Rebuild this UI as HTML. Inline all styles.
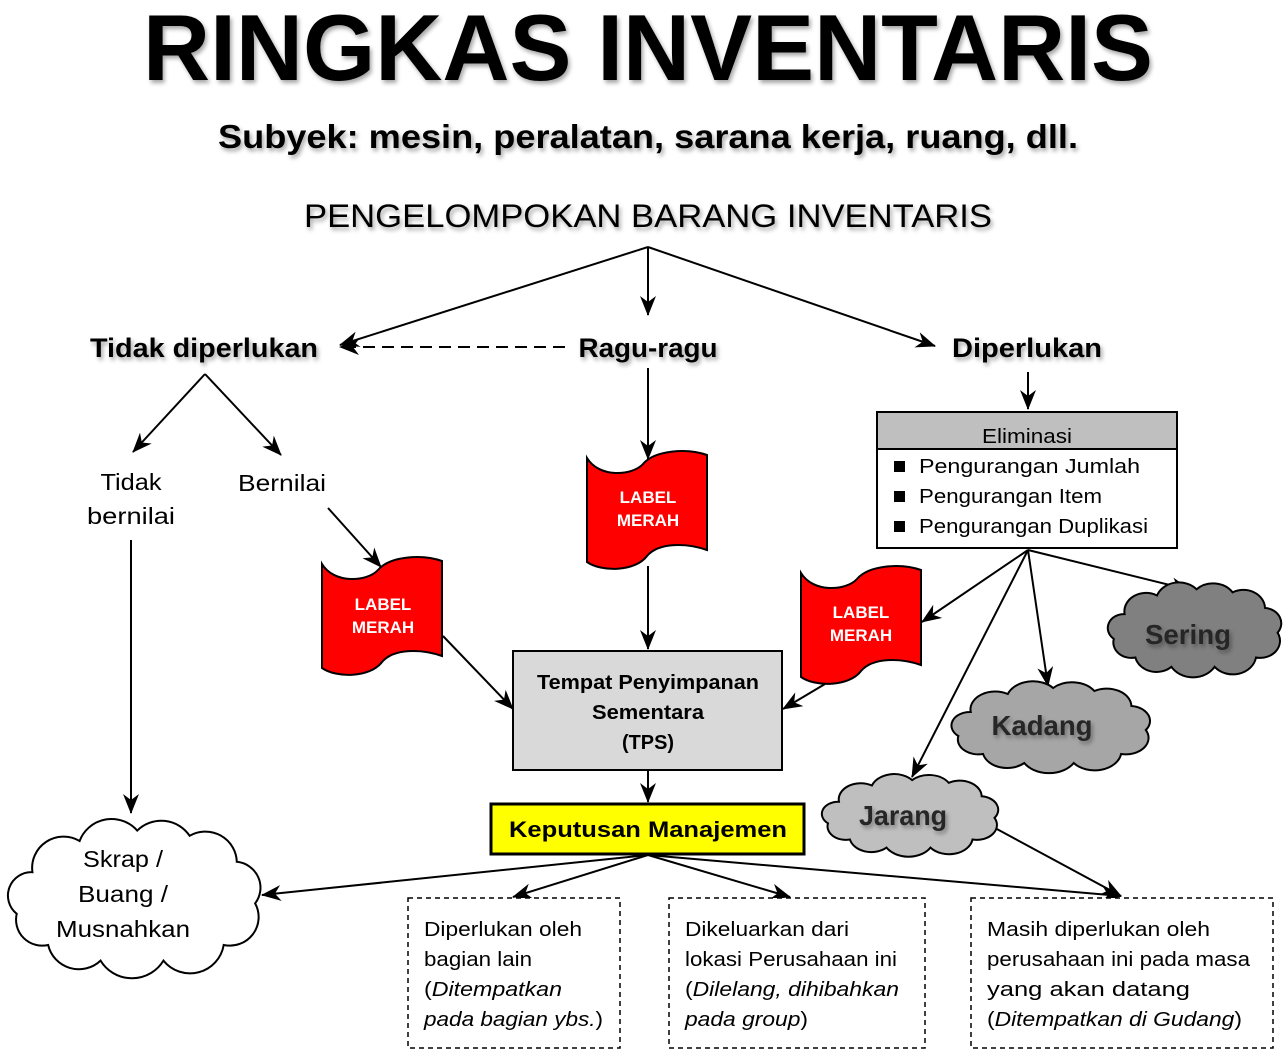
<!DOCTYPE html>
<html><head><meta charset="utf-8"><style>
html,body{margin:0;padding:0;background:#fff}
svg{display:block}
text{font-family:"Liberation Sans",sans-serif}
</style></head><body>
<svg width="1286" height="1050" viewBox="0 0 1286 1050" xmlns="http://www.w3.org/2000/svg">
<defs>
<marker id="a" viewBox="0 0 20 16" refX="19" refY="8" markerWidth="20" markerHeight="16" markerUnits="userSpaceOnUse" orient="auto">
<path d="M0,0 L20,8 L0,16 L6,8 Z" fill="#000"/>
</marker>
<filter id="sh" x="-5%" y="-5%" width="115%" height="130%"><feDropShadow dx="2" dy="3" stdDeviation="2" flood-color="#000" flood-opacity="0.35"/></filter>
<path id="flag" d="M0,8 C12,28 45,26 56,14 C68,0 100,-2 120,5 L120,100 C100,93 72,92 60,106 C48,122 14,122 0,112 Z"/>
</defs>

<g filter="url(#sh)">
<text x="648" y="80" font-size="94" font-weight="bold" text-anchor="middle" textLength="1010" lengthAdjust="spacingAndGlyphs">RINGKAS INVENTARIS</text>
<text x="648" y="148" font-size="33" font-weight="bold" text-anchor="middle" textLength="860" lengthAdjust="spacingAndGlyphs">Subyek: mesin, peralatan, sarana kerja, ruang, dll.</text>
<text x="648" y="227" font-size="32" text-anchor="middle" textLength="688" lengthAdjust="spacingAndGlyphs">PENGELOMPOKAN BARANG INVENTARIS</text>
<text x="204" y="357" font-size="27" font-weight="bold" text-anchor="middle" textLength="228" lengthAdjust="spacingAndGlyphs">Tidak diperlukan</text>
<text x="648" y="357" font-size="27" font-weight="bold" text-anchor="middle" textLength="139" lengthAdjust="spacingAndGlyphs">Ragu-ragu</text>
<text x="1027" y="357" font-size="27" font-weight="bold" text-anchor="middle" textLength="150" lengthAdjust="spacingAndGlyphs">Diperlukan</text>
</g>

<g stroke="#000" stroke-width="2" fill="none">
<line x1="648" y1="247" x2="340" y2="345" marker-end="url(#a)"/>
<line x1="648" y1="247" x2="648" y2="315" marker-end="url(#a)"/>
<line x1="648" y1="247" x2="935" y2="346" marker-end="url(#a)"/>
<line x1="565" y1="347" x2="340" y2="347" stroke-dasharray="12,7" marker-end="url(#a)"/>
<line x1="205" y1="374" x2="133" y2="452" marker-end="url(#a)"/>
<line x1="205" y1="374" x2="281" y2="455" marker-end="url(#a)"/>
<line x1="131" y1="540" x2="131" y2="813" marker-end="url(#a)"/>
<line x1="328" y1="508" x2="381" y2="567" marker-end="url(#a)"/>
<line x1="648" y1="368" x2="648" y2="459" marker-end="url(#a)"/>
<line x1="648" y1="566" x2="648" y2="649" marker-end="url(#a)"/>
<line x1="443" y1="636" x2="513" y2="709" marker-end="url(#a)"/>
<line x1="825" y1="684" x2="783" y2="709" marker-end="url(#a)"/>
<line x1="648" y1="770" x2="648" y2="802" marker-end="url(#a)"/>
<line x1="1028" y1="372" x2="1028" y2="409" marker-end="url(#a)"/>
<line x1="1028" y1="550" x2="922" y2="622" marker-end="url(#a)"/>
<line x1="1028" y1="550" x2="1048" y2="686" marker-end="url(#a)"/>
<line x1="1028" y1="550" x2="912" y2="777" marker-end="url(#a)"/>
<line x1="1028" y1="550" x2="1190" y2="590" marker-end="url(#a)"/>
<line x1="995" y1="828" x2="1121" y2="896" marker-end="url(#a)"/>
<line x1="648" y1="855" x2="262" y2="895" marker-end="url(#a)"/>
<line x1="648" y1="855" x2="513" y2="897" marker-end="url(#a)"/>
<line x1="648" y1="855" x2="790" y2="897" marker-end="url(#a)"/>
<line x1="648" y1="855" x2="1121" y2="896" marker-end="url(#a)"/>
</g>

<g font-size="23" text-anchor="middle">
<text x="131" y="490" textLength="61" lengthAdjust="spacingAndGlyphs">Tidak</text>
<text x="131" y="524" textLength="88" lengthAdjust="spacingAndGlyphs">bernilai</text>
<text x="282" y="491" textLength="88" lengthAdjust="spacingAndGlyphs">Bernilai</text>
</g>

<!-- flags -->
<g fill="#ff0000" stroke="#000" stroke-width="2">
<use href="#flag" transform="translate(322,556)"/>
<use href="#flag" transform="translate(587,450)"/>
<use href="#flag" transform="translate(801,565)"/>
</g>
<g fill="#fff" font-size="17" font-weight="bold" text-anchor="middle">
<text x="383" y="610">LABEL</text><text x="383" y="633">MERAH</text>
<text x="648" y="503">LABEL</text><text x="648" y="526">MERAH</text>
<text x="861" y="618">LABEL</text><text x="861" y="641">MERAH</text>
</g>

<!-- TPS -->
<rect x="513" y="651" width="269" height="119" fill="#d9d9d9" stroke="#000" stroke-width="2"/>
<g font-size="20" font-weight="bold" text-anchor="middle">
<text x="648" y="689" textLength="222" lengthAdjust="spacingAndGlyphs">Tempat Penyimpanan</text>
<text x="648" y="719" textLength="112" lengthAdjust="spacingAndGlyphs">Sementara</text>
<text x="648" y="749" textLength="52" lengthAdjust="spacingAndGlyphs">(TPS)</text>
</g>
<rect x="491" y="804" width="313" height="50" fill="#ffff00" stroke="#000" stroke-width="3"/>
<text x="648" y="837" font-size="22" font-weight="bold" text-anchor="middle" textLength="278" lengthAdjust="spacingAndGlyphs">Keputusan Manajemen</text>

<!-- Eliminasi -->
<rect x="877" y="412" width="300" height="136" fill="#fff" stroke="#000" stroke-width="2"/>
<rect x="877" y="412" width="300" height="37" fill="#bfbfbf" stroke="#000" stroke-width="2"/>
<text x="1027" y="443" font-size="20" text-anchor="middle" textLength="90" lengthAdjust="spacingAndGlyphs">Eliminasi</text>
<g font-size="20">
<rect x="894" y="461" width="11" height="11"/><text x="919" y="473" textLength="221" lengthAdjust="spacingAndGlyphs">Pengurangan Jumlah</text>
<rect x="894" y="491" width="11" height="11"/><text x="919" y="503" textLength="183" lengthAdjust="spacingAndGlyphs">Pengurangan Item</text>
<rect x="894" y="521" width="11" height="11"/><text x="919" y="533" textLength="229" lengthAdjust="spacingAndGlyphs">Pengurangan Duplikasi</text>
</g>

<!-- clouds -->
<g stroke="#000" stroke-width="2">
<path vector-effect="non-scaling-stroke" fill="#808080" transform="translate(1103,580) scale(1.8,1.55)" d="M12,22 A12,12 0 0 1 30,10 A13,13 0 0 1 52,6 A13,13 0 0 1 72,8 A12,12 0 0 1 90,18 A10,10 0 0 1 97,34 A11,11 0 0 1 85,50 A13,13 0 0 1 62,56 A14,14 0 0 1 38,56 A12,12 0 0 1 18,50 A10,10 0 0 1 6,38 A9,9 0 0 1 12,22 Z"/>
<path vector-effect="non-scaling-stroke" fill="#a6a6a6" transform="translate(946,679) scale(2.06,1.5)" d="M12,22 A12,12 0 0 1 30,10 A13,13 0 0 1 52,6 A13,13 0 0 1 72,8 A12,12 0 0 1 90,18 A10,10 0 0 1 97,34 A11,11 0 0 1 85,50 A13,13 0 0 1 62,56 A14,14 0 0 1 38,56 A12,12 0 0 1 18,50 A10,10 0 0 1 6,38 A9,9 0 0 1 12,22 Z"/>
<path vector-effect="non-scaling-stroke" fill="#bfbfbf" transform="translate(817,772) scale(1.83,1.35)" d="M12,22 A12,12 0 0 1 30,10 A13,13 0 0 1 52,6 A13,13 0 0 1 72,8 A12,12 0 0 1 90,18 A10,10 0 0 1 97,34 A11,11 0 0 1 85,50 A13,13 0 0 1 62,56 A14,14 0 0 1 38,56 A12,12 0 0 1 18,50 A10,10 0 0 1 6,38 A9,9 0 0 1 12,22 Z"/>
<path vector-effect="non-scaling-stroke" fill="#fff" transform="translate(1,815) scale(2.62,2.6)" d="M12,22 A12,12 0 0 1 30,10 A13,13 0 0 1 52,6 A13,13 0 0 1 72,8 A12,12 0 0 1 90,18 A10,10 0 0 1 97,34 A11,11 0 0 1 85,50 A13,13 0 0 1 62,56 A14,14 0 0 1 38,56 A12,12 0 0 1 18,50 A10,10 0 0 1 6,38 A9,9 0 0 1 12,22 Z"/>
</g>
<g font-size="28" font-weight="bold" text-anchor="middle" fill="#262626" filter="url(#sh)">
<text x="1188" y="644" textLength="86" lengthAdjust="spacingAndGlyphs">Sering</text>
<text x="1042" y="735" textLength="101" lengthAdjust="spacingAndGlyphs">Kadang</text>
<text x="903" y="825" textLength="88" lengthAdjust="spacingAndGlyphs">Jarang</text>
</g>
<g font-size="23" text-anchor="middle">
<text x="123" y="867" textLength="80" lengthAdjust="spacingAndGlyphs">Skrap /</text>
<text x="123" y="902" textLength="90" lengthAdjust="spacingAndGlyphs">Buang /</text>
<text x="123" y="937" textLength="134" lengthAdjust="spacingAndGlyphs">Musnahkan</text>
</g>

<!-- dashed boxes -->
<g fill="#fff" stroke="#000" stroke-width="1.5" stroke-dasharray="5,4">
<rect x="408" y="898" width="212" height="150"/>
<rect x="669" y="898" width="256" height="150"/>
<rect x="971" y="898" width="302" height="150"/>
</g>
<g font-size="20">
<text x="424" y="936" textLength="158" lengthAdjust="spacingAndGlyphs">Diperlukan oleh</text>
<text x="424" y="966" textLength="108" lengthAdjust="spacingAndGlyphs">bagian lain</text>
<text x="424" y="996" textLength="138" lengthAdjust="spacingAndGlyphs">(<tspan font-style="italic">Ditempatkan</tspan></text>
<text x="424" y="1026" textLength="179" lengthAdjust="spacingAndGlyphs"><tspan font-style="italic">pada bagian ybs.</tspan>)</text>
<text x="685" y="936" textLength="164" lengthAdjust="spacingAndGlyphs">Dikeluarkan dari</text>
<text x="685" y="966" textLength="212" lengthAdjust="spacingAndGlyphs">lokasi Perusahaan ini</text>
<text x="685" y="996" textLength="214" lengthAdjust="spacingAndGlyphs">(<tspan font-style="italic">Dilelang, dihibahkan</tspan></text>
<text x="685" y="1026" textLength="123" lengthAdjust="spacingAndGlyphs"><tspan font-style="italic">pada group</tspan>)</text>
<text x="987" y="936" textLength="223" lengthAdjust="spacingAndGlyphs">Masih diperlukan oleh</text>
<text x="987" y="966" textLength="263" lengthAdjust="spacingAndGlyphs">perusahaan ini pada masa</text>
<text x="987" y="996" textLength="203" lengthAdjust="spacingAndGlyphs">yang akan datang</text>
<text x="987" y="1026" textLength="255" lengthAdjust="spacingAndGlyphs">(<tspan font-style="italic">Ditempatkan di Gudang</tspan>)</text>
</g>
</svg>
</body></html>
